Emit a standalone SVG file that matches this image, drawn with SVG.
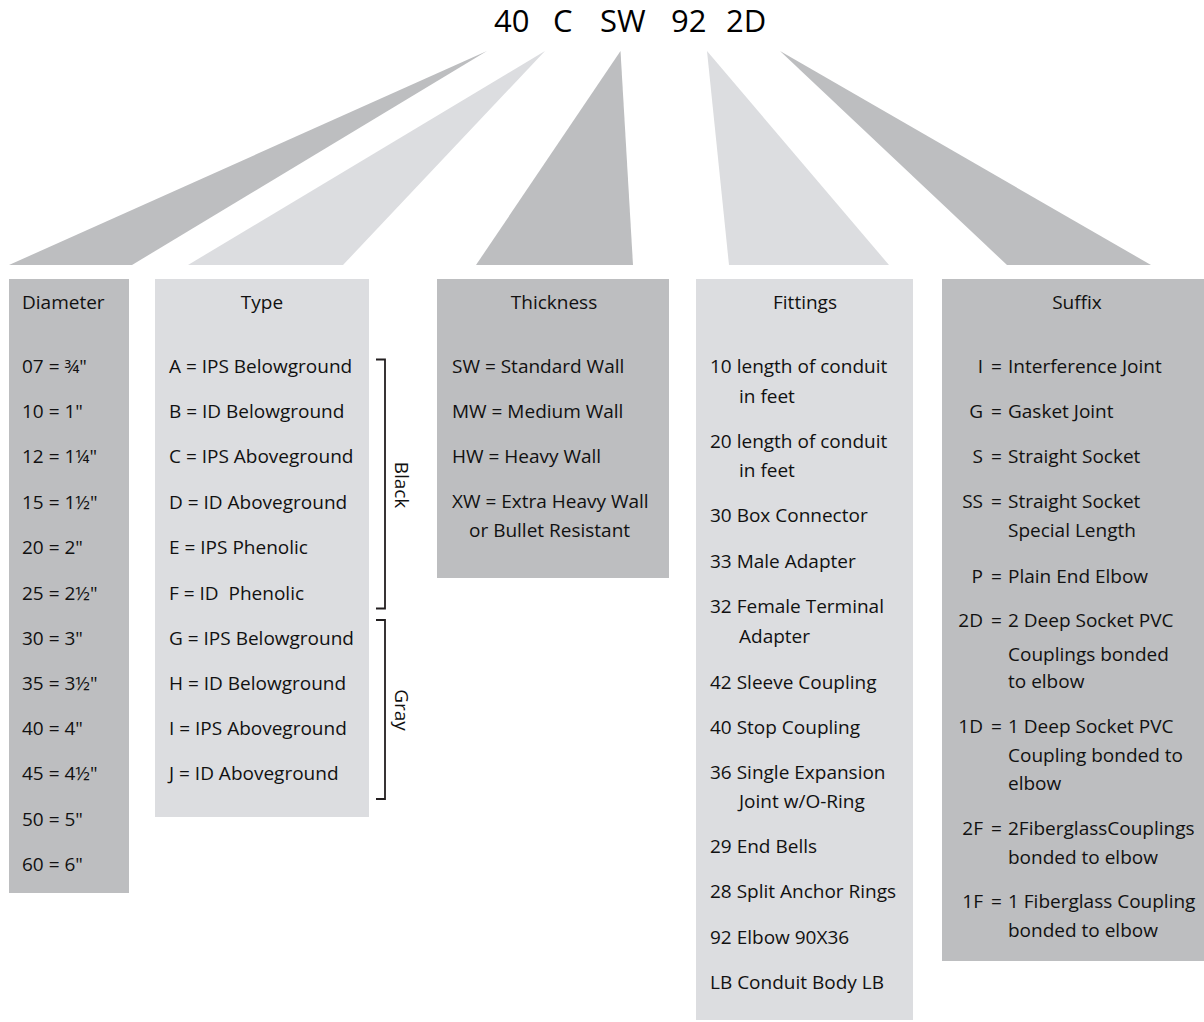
<svg xmlns="http://www.w3.org/2000/svg" width="1204" height="1022" viewBox="0 0 1204 1022">
<style>
text{font-family:"Open Sans","Noto Sans","Liberation Sans",sans-serif;font-size:19px;fill:#111111;white-space:pre}
.dark{fill:#bdbec0}
.light{fill:#dcdde0}
.hd{text-anchor:middle}
.end{text-anchor:end}
.title{font-size:31px;fill:#000000}
.br{fill:none;stroke:#231f20;stroke-width:1.8}
</style>
<rect width="1204" height="1022" fill="#ffffff"/>
<g id="title">
<text class="title" y="32"><tspan x="494">40</tspan><tspan x="545"> C</tspan><tspan x="592"> SW</tspan><tspan x="663"> 92</tspan><tspan x="718"> 2D</tspan></text>
</g>
<g id="connectors">
<polygon class="dark" points="487,51 132,265 9,265"/>
<polygon class="light" points="545,51 343,265 188,265"/>
<polygon class="dark" points="620.5,51 633,265 476,265"/>
<polygon class="light" points="707,51 889,265 729,265"/>
<polygon class="dark" points="780,51 1151,265 1007,265"/>
</g>
<g id="diameter">
<rect class="dark" x="9" y="279" width="120" height="614"/>
<text x="22" y="309">Diameter</text>
<text x="22" y="373">07 = ¾"</text>
<text x="22" y="418">10 = 1"</text>
<text x="22" y="463">12 = 1¼"</text>
<text x="22" y="509">15 = 1½"</text>
<text x="22" y="554">20 = 2"</text>
<text x="22" y="600">25 = 2½"</text>
<text x="22" y="645">30 = 3"</text>
<text x="22" y="690">35 = 3½"</text>
<text x="22" y="735">40 = 4"</text>
<text x="22" y="780">45 = 4½"</text>
<text x="22" y="826">50 = 5"</text>
<text x="22" y="871">60 = 6"</text>
</g>
<g id="type">
<rect class="light" x="155" y="279" width="214" height="538"/>
<text class="hd" x="262" y="309">Type</text>
<text x="169" y="373">A = IPS Belowground</text>
<text x="169" y="418">B = ID Belowground</text>
<text x="169" y="463">C = IPS Aboveground</text>
<text x="169" y="509">D = ID Aboveground</text>
<text x="169" y="554">E = IPS Phenolic</text>
<text x="169" y="600">F = ID  Phenolic</text>
<text x="169" y="645">G = IPS Belowground</text>
<text x="169" y="690">H = ID Belowground</text>
<text x="169" y="735">I = IPS Aboveground</text>
<text x="169" y="780">J = ID Aboveground</text>
</g>
<g id="black-bracket">
<path class="br" d="M376,359.5 H385 V608.5 H376"/>
<text class="hd" transform="translate(395,485) rotate(90)">Black</text>
</g>
<g id="gray-bracket">
<path class="br" d="M376,620 H385 V799 H376"/>
<text class="hd" transform="translate(395,710) rotate(90)">Gray</text>
</g>
<g id="thickness">
<rect class="dark" x="437" y="279" width="232" height="299"/>
<text class="hd" x="554" y="309">Thickness</text>
<text x="452" y="373">SW = Standard Wall</text>
<text x="452" y="418">MW = Medium Wall</text>
<text x="452" y="463">HW = Heavy Wall</text>
<text x="452" y="508">XW = Extra Heavy Wall</text>
<text x="469" y="537">or Bullet Resistant</text>
</g>
<g id="fittings">
<rect class="light" x="696" y="279" width="217" height="741"/>
<text class="hd" x="805" y="309">Fittings</text>
<text x="710" y="373">10 length of conduit</text>
<text x="739" y="403">in feet</text>
<text x="710" y="448">20 length of conduit</text>
<text x="739" y="477">in feet</text>
<text x="710" y="522">30 Box Connector</text>
<text x="710" y="568">33 Male Adapter</text>
<text x="710" y="613">32 Female Terminal</text>
<text x="739" y="643">Adapter</text>
<text x="710" y="689">42 Sleeve Coupling</text>
<text x="710" y="734">40 Stop Coupling</text>
<text x="710" y="779">36 Single Expansion</text>
<text x="739" y="808">Joint w/O-Ring</text>
<text x="710" y="853">29 End Bells</text>
<text x="710" y="898">28 Split Anchor Rings</text>
<text x="710" y="944">92 Elbow 90X36</text>
<text x="710" y="989">LB Conduit Body LB</text>
</g>
<g id="suffix">
<rect class="dark" x="942" y="279" width="262" height="682"/>
<text class="hd" x="1077" y="309">Suffix</text>
<text class="end" x="983" y="373">I</text><text x="991" y="373">=</text><text x="1008" y="373">Interference Joint</text>
<text class="end" x="983" y="418">G</text><text x="991" y="418">=</text><text x="1008" y="418">Gasket Joint</text>
<text class="end" x="983" y="463">S</text><text x="991" y="463">=</text><text x="1008" y="463">Straight Socket</text>
<text class="end" x="983" y="508">SS</text><text x="991" y="508">=</text><text x="1008" y="508">Straight Socket</text>
<text x="1008" y="537">Special Length</text>
<text class="end" x="983" y="583">P</text><text x="991" y="583">=</text><text x="1008" y="583">Plain End Elbow</text>
<text class="end" x="983" y="627">2D</text><text x="991" y="627">=</text><text x="1008" y="627">2 Deep Socket PVC</text>
<text x="1008" y="661">Couplings bonded</text>
<text x="1008" y="688">to elbow</text>
<text class="end" x="983" y="733">1D</text><text x="991" y="733">=</text><text x="1008" y="733">1 Deep Socket PVC</text>
<text x="1008" y="762">Coupling bonded to</text>
<text x="1008" y="790">elbow</text>
<text class="end" x="983" y="835">2F</text><text x="991" y="835">=</text><text x="1008" y="835">2FiberglassCouplings</text>
<text x="1008" y="864">bonded to elbow</text>
<text class="end" x="983" y="908">1F</text><text x="991" y="908">=</text><text x="1008" y="908">1 Fiberglass Coupling</text>
<text x="1008" y="937">bonded to elbow</text>
</g>
</svg>
